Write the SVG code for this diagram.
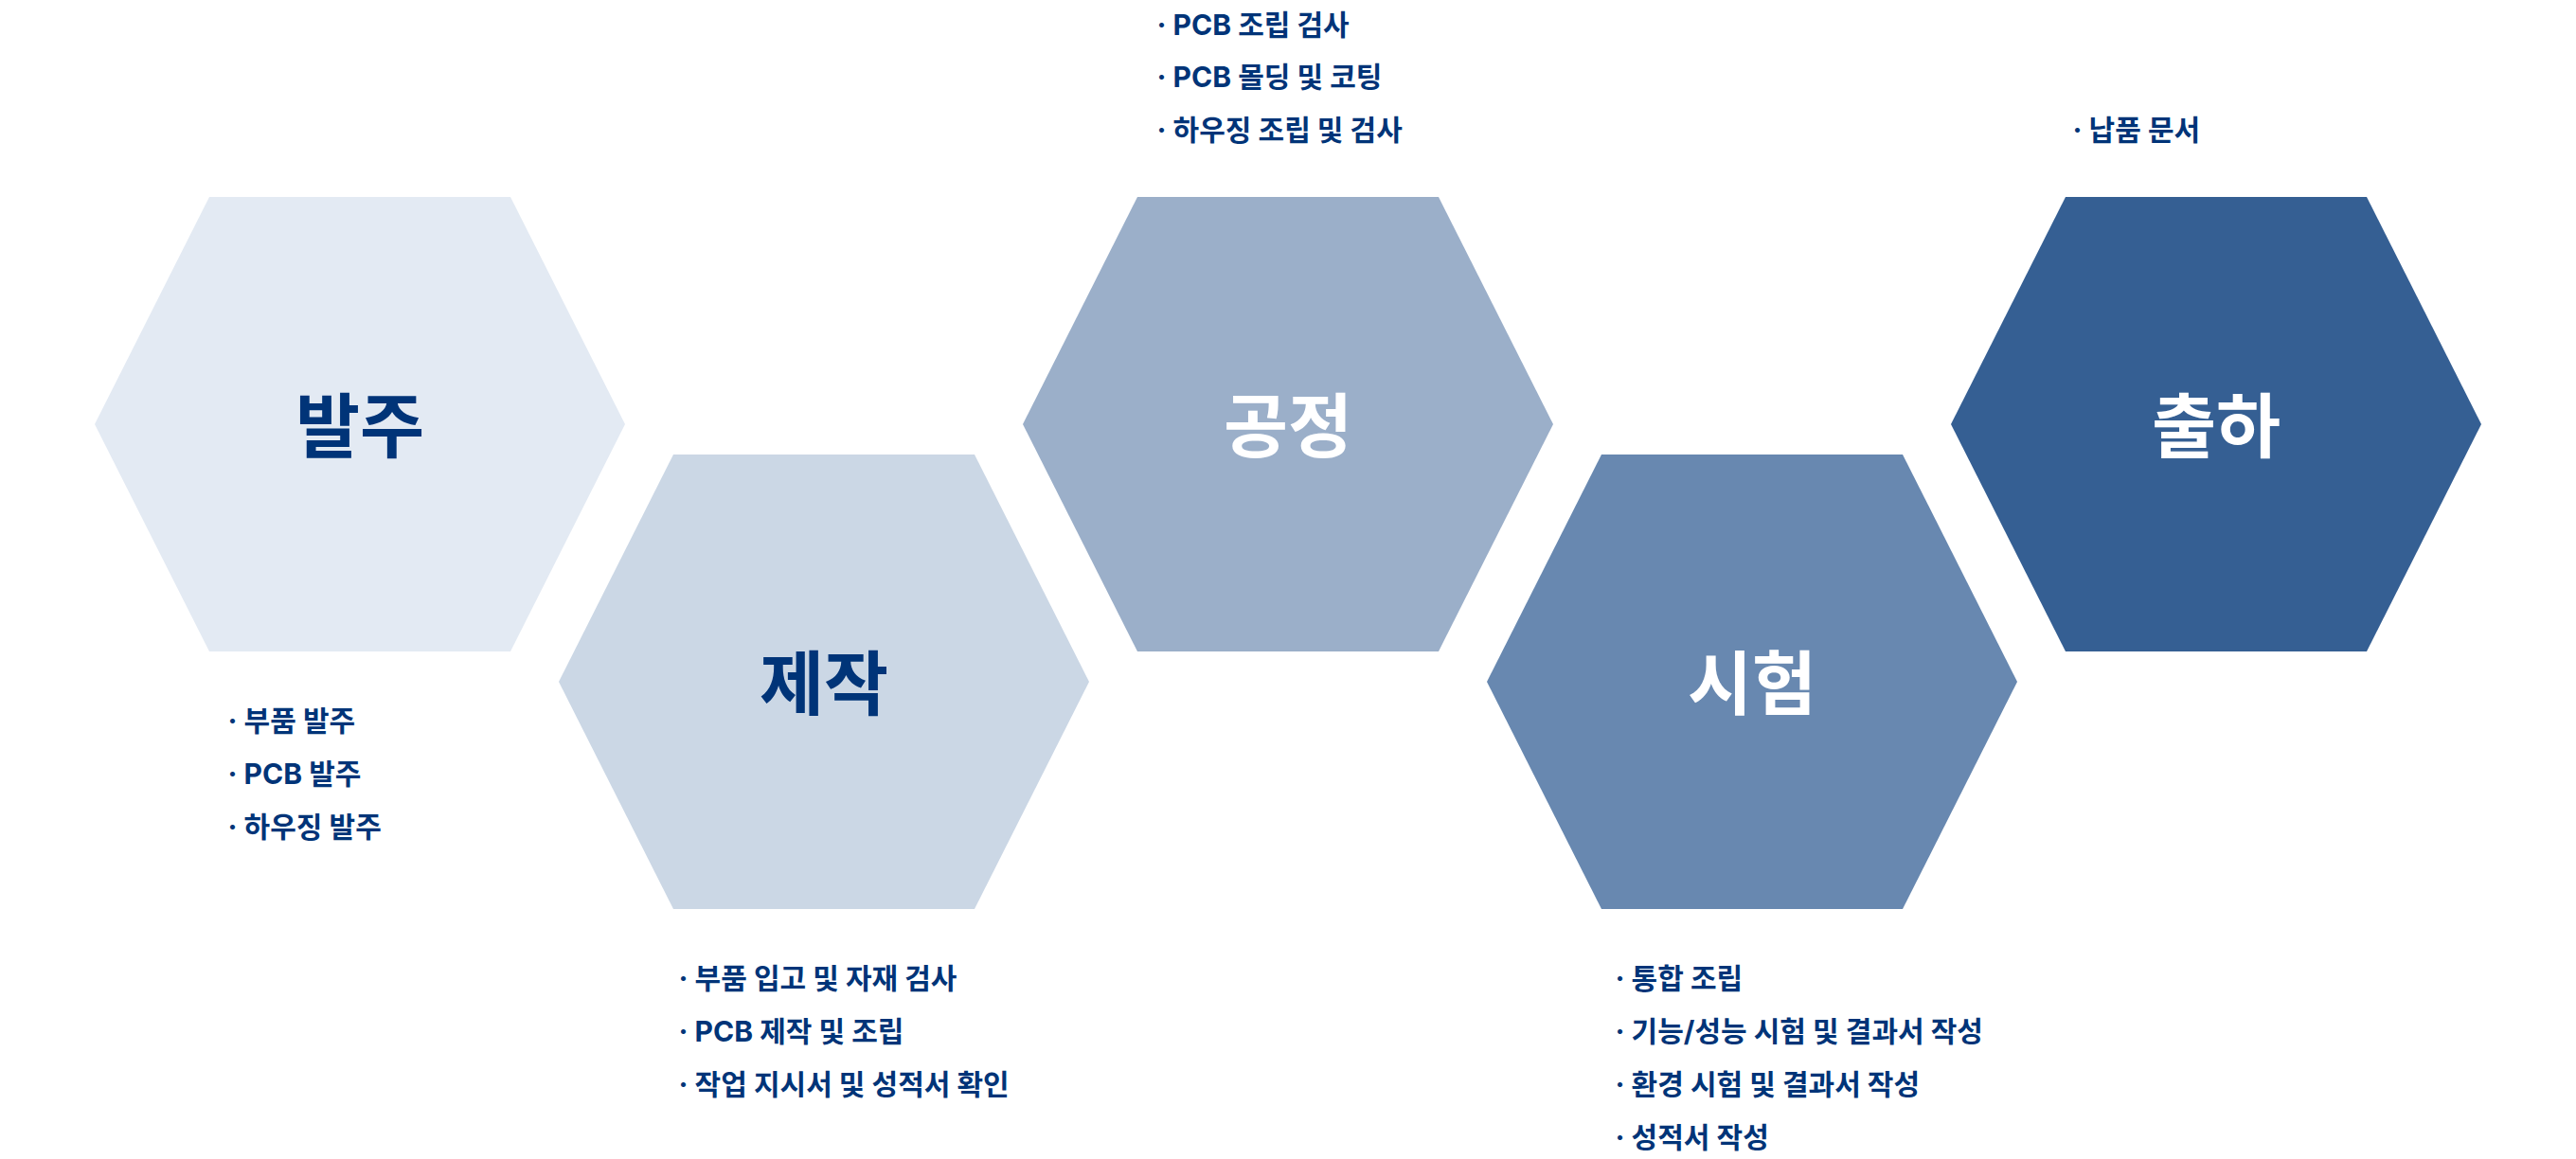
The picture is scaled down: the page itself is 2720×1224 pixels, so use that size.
<svg xmlns="http://www.w3.org/2000/svg" xmlns:xlink="http://www.w3.org/1999/xlink" width="2720" height="1224" viewBox="0 0 2720 1224">
<style>
.title{font-family:"Noto Sans CJK KR","Noto Sans",sans-serif;font-weight:700;font-size:74px;text-anchor:middle}
.dark{fill:#003478}
.light{fill:#ffffff}
.item{font-family:Inter,"Noto Sans CJK KR",sans-serif;font-weight:700;font-size:30px;fill:#003478}
</style>
<defs>
<polygon id="hex" points="-159,-240 159,-240 280,0 159,240 -159,240 -280,0"/>
</defs>
<rect width="2720" height="1224" fill="#ffffff"/>
<g id="connectors"/>
<g id="node-order">
<use href="#hex" x="380" y="448" fill="#E3EAF3"/>
<text class="title dark" x="380" y="477">발주</text>
<text class="item" x="240.5" y="772">· 부품 발주</text>
<text class="item" x="240.5" y="828">· PCB 발주</text>
<text class="item" x="240.5" y="884">· 하우징 발주</text>
</g>
<g id="node-make">
<use href="#hex" x="870" y="720" fill="#CBD7E5"/>
<text class="title dark" x="870" y="749">제작</text>
<text class="item" x="716.5" y="1044">· 부품 입고 및 자재 검사</text>
<text class="item" x="716.5" y="1100">· PCB 제작 및 조립</text>
<text class="item" x="716.5" y="1156">· 작업 지시서 및 성적서 확인</text>
</g>
<g id="node-process">
<use href="#hex" x="1360" y="448" fill="#9BAFC9"/>
<text class="title light" x="1360" y="477">공정</text>
<text class="item" x="1221.5" y="37">· PCB 조립 검사</text>
<text class="item" x="1221.5" y="92">· PCB 몰딩 및 코팅</text>
<text class="item" x="1221.5" y="148">· 하우징 조립 및 검사</text>
</g>
<g id="node-test">
<use href="#hex" x="1850" y="720" fill="#6888B0"/>
<text class="title light" x="1850" y="749">시험</text>
<text class="item" x="1705.5" y="1044">· 통합 조립</text>
<text class="item" x="1705.5" y="1100">· 기능/성능 시험 및 결과서 작성</text>
<text class="item" x="1705.5" y="1156">· 환경 시험 및 결과서 작성</text>
<text class="item" x="1705.5" y="1212">· 성적서 작성</text>
</g>
<g id="node-ship">
<use href="#hex" x="2340" y="448" fill="#355F93"/>
<text class="title light" x="2340" y="477">출하</text>
<text class="item" x="2188.5" y="148">· 납품 문서</text>
</g>
</svg>
